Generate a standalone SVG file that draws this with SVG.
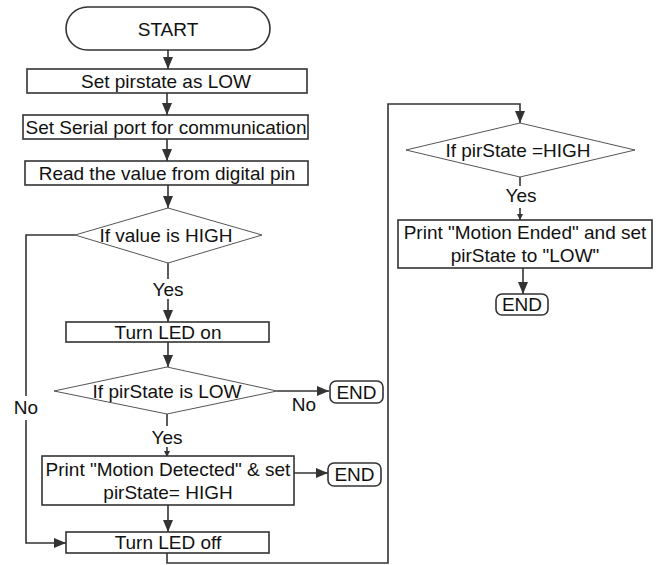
<svg xmlns="http://www.w3.org/2000/svg" width="662" height="565" viewBox="0 0 662 565">
<defs>
<marker id="ah" markerUnits="userSpaceOnUse" markerWidth="12" markerHeight="10" refX="12" refY="5" orient="auto"><path d="M0,0 L12,5 L0,10 z" fill="#333"/></marker>
<marker id="ahs" markerUnits="userSpaceOnUse" markerWidth="6" markerHeight="6" refX="6" refY="3" orient="auto"><path d="M0,0 L6,3 L0,6 z" fill="#333"/></marker>
<style>
.box{fill:#fff;stroke:#333;stroke-width:1.6}
.dia{fill:#fff;stroke:#555;stroke-width:1}
.t{font-family:"Liberation Sans",Arial,sans-serif;font-size:19px;fill:#111;text-anchor:middle}
.c{fill:none;stroke:#333;stroke-width:1.6}
</style>
</defs>
<rect width="662" height="565" fill="#fff"/>
<g id="connectors">
<path class="c" d="M168,50 V69" marker-end="url(#ah)"/>
<path class="c" d="M167,93 V115" marker-end="url(#ah)"/>
<path class="c" d="M167,139 V161" marker-end="url(#ah)"/>
<path class="c" d="M168,185 V208" marker-end="url(#ah)"/>
<path class="c" d="M168,263 V279"/>
<path class="c" d="M168,299 V322" marker-end="url(#ah)"/>
<path class="c" d="M168,342 V367" marker-end="url(#ah)"/>
<path class="c" d="M277,391 H329" marker-end="url(#ah)"/>
<path class="c" d="M167,414 V426"/>
<path class="c" d="M167,447 V457" marker-end="url(#ahs)"/>
<path class="c" d="M294,473 H328" marker-end="url(#ah)"/>
<path class="c" d="M168,505 V532" marker-end="url(#ah)"/>
<path class="c" d="M75,235 H26 V396"/>
<path class="c" d="M26,420 V543 H66" marker-end="url(#ah)"/>
<path class="c" d="M167,553 V563 H388 V104 H520 V123" marker-end="url(#ah)"/>
<path class="c" d="M520,177 V186"/>
<path class="c" d="M520,208 V220" marker-end="url(#ahs)"/>
<path class="c" d="M523,268 V294" marker-end="url(#ah)"/>
</g>
<g id="start"><rect class="box" x="66" y="7" width="204" height="43" rx="21.5"/><text class="t" x="168" y="36">START</text></g>
<g id="set-pirstate"><rect class="box" x="27" y="69" width="280" height="24"/><text class="t" x="166" y="88">Set pirstate as LOW</text></g>
<g id="set-serial"><rect class="box" x="23" y="115" width="285" height="24"/><text class="t" x="166" y="134">Set Serial port for communication</text></g>
<g id="read-value"><rect class="box" x="25" y="161" width="283" height="24"/><text class="t" x="167" y="180">Read the value from digital pin</text></g>
<g id="if-value-high"><polygon class="dia" points="168,208 262,235 168,263 75,235"/><text class="t" x="166" y="242">If value is HIGH</text></g>
<g id="yes1"><text class="t" x="168" y="296">Yes</text></g>
<g id="led-on"><rect class="box" x="66" y="322" width="203" height="20"/><text class="t" x="168" y="339">Turn LED on</text></g>
<g id="if-pir-low"><polygon class="dia" points="167,367 277,391 167,414 54,391"/><text class="t" x="167" y="398">If pirState is LOW</text></g>
<g id="no1"><text class="t" x="304" y="411">No</text></g>
<g id="end1"><rect class="box" x="330" y="381" width="53" height="22" rx="6"/><text class="t" x="356.5" y="399">END</text></g>
<g id="yes2"><text class="t" x="167" y="444">Yes</text></g>
<g id="print-detected"><rect class="box" x="42" y="456" width="252" height="49"/><text class="t" x="168" y="476">Print "Motion Detected" &amp; set</text><text class="t" x="168" y="499">pirState= HIGH</text></g>
<g id="end2"><rect class="box" x="328" y="463" width="53" height="23" rx="6"/><text class="t" x="354.5" y="481">END</text></g>
<g id="led-off"><rect class="box" x="66" y="532" width="203" height="21"/><text class="t" x="168" y="549">Turn LED off</text></g>
<g id="no2"><text class="t" x="26" y="414">No</text></g>
<g id="if-pir-high"><polygon class="dia" points="520,123 635,150 520,177 406,150"/><text class="t" x="518" y="157">If pirState =HIGH</text></g>
<g id="yes3"><text class="t" x="521" y="202">Yes</text></g>
<g id="print-ended"><rect class="box" x="398" y="220" width="254" height="48"/><text class="t" x="525" y="239">Print "Motion Ended" and set</text><text class="t" x="525" y="262">pirState to "LOW"</text></g>
<g id="end3"><rect class="box" x="496" y="294" width="52" height="21" rx="6"/><text class="t" x="522" y="311">END</text></g>
</svg>
